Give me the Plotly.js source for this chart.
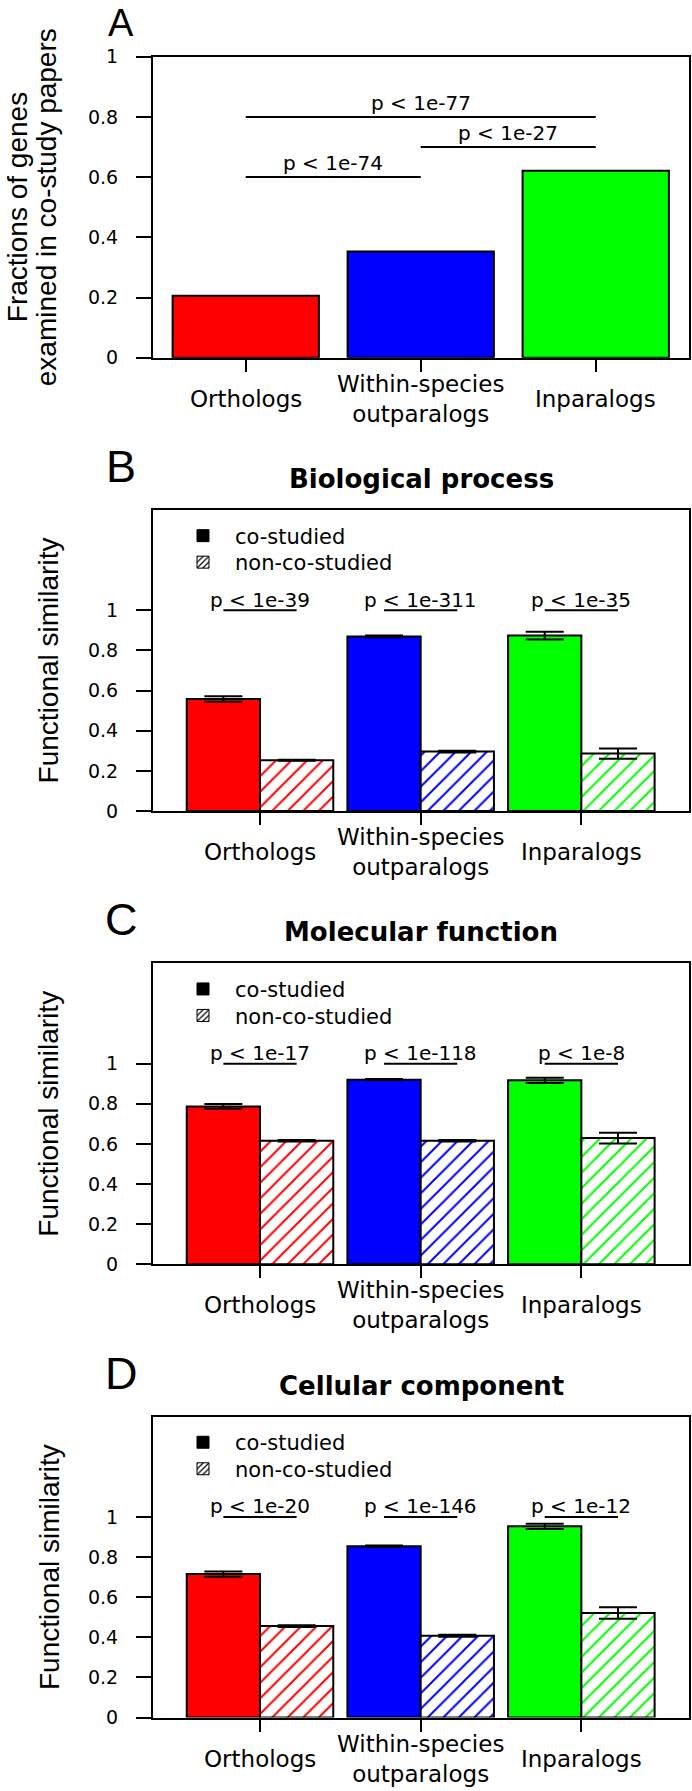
<!DOCTYPE html>
<html>
<head>
<meta charset="utf-8">
<script src="https://cdn.plot.ly/plotly-3.0.1.min.js"></script>
<style>
  html, body { margin: 0; padding: 0; background: #fff; }
  #chart { width: 692px; height: 1791px; }
</style>
</head>
<body>
<div id="chart"></div>
<script>
// Co-study fractions (A) and GO functional similarity (B-D)

var categories = ['Orthologs', 'Within-species<br>outparalogs', 'Inparalogs'];
var groupColors = ['#ff0000', '#0000ff', '#00ff00'];

// panel A
var coStudyFraction = [0.206, 0.353, 0.621];
var pairFrom = [0, 1, 0];
var pairTo = [1, 2, 2];
var pairLevel = [0.6, 0.7, 0.8];
var pairLabels = ['p < 1e-74', 'p < 1e-27', 'p < 1e-77'];

// panel B - biological process
var bpCo = [0.558, 0.870, 0.874];
var bpCoErr = [0.014, 0.004, 0.019];
var bpNon = [0.253, 0.296, 0.286];
var bpNonErr = [0.003, 0.004, 0.025];
var bpPvals = ['p < 1e-39', 'p < 1e-311', 'p < 1e-35'];

// panel C - molecular function
var mfCo = [0.787, 0.920, 0.917];
var mfCoErr = [0.012, 0.003, 0.013];
var mfNon = [0.616, 0.616, 0.629];
var mfNonErr = [0.004, 0.004, 0.027];
var mfPvals = ['p < 1e-17', 'p < 1e-118', 'p < 1e-8'];

// panel D - cellular component
var ccCo = [0.715, 0.854, 0.953];
var ccCoErr = [0.013, 0.004, 0.013];
var ccNon = [0.456, 0.408, 0.521];
var ccNonErr = [0.004, 0.005, 0.029];
var ccPvals = ['p < 1e-20', 'p < 1e-146', 'p < 1e-12'];

var panelLetters = ['A', 'B', 'C', 'D'];
var panelTitles = ['Biological process', 'Molecular function', 'Cellular component'];
var legendNames = ['co-studied', 'non-co-studied'];
var yTicks = [0, 0.2, 0.4, 0.6, 0.8, 1];

var goPanels = [
  {co: bpCo, coErr: bpCoErr, non: bpNon, nonErr: bpNonErr, p: bpPvals},
  {co: mfCo, coErr: mfCoErr, non: mfNon, nonErr: mfNonErr, p: mfPvals},
  {co: ccCo, coErr: ccCoErr, non: ccNon, nonErr: ccNonErr, p: ccPvals}
];

// page geometry (px)
var W = 692, H = 1791;
var boxLeft = 153, boxRight = 689, boxH = 301;
var panelBottom = [357.7, 811, 1264.3, 1717.6];
function px(x) { return x / W; }
function py(y) { return 1 - y / H; }

var xs = [0, 1, 2];
var barW = 0.456;       // width of one bar in a pair (group units)
var barWA = 0.836;      // panel A bar width

function font(size, extra) {
  var f = {family: 'DejaVu Sans', color: 'black', size: size};
  for (var k in extra) f[k] = extra[k];
  return f;
}
var helv = function (size) { return {family: 'Liberation Sans', size: size, color: 'black'}; };

var data = [];
var shapes = [];
var annotations = [];
var layout = {
  width: W, height: H,
  margin: {l: 0, r: 0, t: 0, b: 0},
  paper_bgcolor: 'white',
  plot_bgcolor: 'white',
  barmode: 'overlay',
  showlegend: true,
  font: font(18),
  shapes: shapes,
  annotations: annotations
};

function axisPair(i, xRange, yRange) {
  var sfx = i === 0 ? '' : String(i + 1);
  var bottom = panelBottom[i];
  layout['xaxis' + sfx] = {
    domain: [px(boxLeft), px(boxRight)],
    anchor: 'y' + sfx,
    range: xRange,
    tickvals: xs,
    showticklabels: false,
    ticks: 'outside', ticklen: 12, tickwidth: 2, tickcolor: 'black',
    showline: true, linewidth: 2, linecolor: 'black', mirror: true,
    showgrid: false, zeroline: false, fixedrange: true
  };
  layout['yaxis' + sfx] = {
    domain: [py(bottom), py(bottom - boxH)],
    anchor: 'x' + sfx,
    range: yRange,
    tickvals: yTicks,
    ticks: 'outside', ticklen: 15, tickwidth: 2, tickcolor: 'black',
    ticklabelstandoff: 14,
    tickfont: font(19),
    showline: true, linewidth: 2, linecolor: 'black', mirror: true,
    showgrid: false, zeroline: false, fixedrange: true
  };
  // category labels, centred vertically like R's axis text
  categories.forEach(function (c, k) {
    annotations.push({
      xref: 'x' + sfx, yref: 'y' + sfx, x: xs[k], y: 0,
      xanchor: 'center', yanchor: 'middle', yshift: -41, showarrow: false,
      text: c, font: font(23)
    });
  });
  // panel letter (A is squeezed between the page top and the "1" tick label)
  annotations.push({
    xref: 'paper', x: px(121.5), yref: 'y' + sfx + ' domain', y: 1,
    xanchor: 'center', yanchor: 'middle', yshift: i === 0 ? 33.2 : 43.5,
    showarrow: false, text: panelLetters[i], font: helv(i === 0 ? 38 : 45)
  });
}

// ---- panel A ----
axisPair(0, [-0.53, 2.533], [0, 1]);
data.push({
  type: 'bar', x: xs, y: coStudyFraction, width: barWA,
  marker: {color: groupColors, line: {color: 'black', width: 2}},
  xaxis: 'x', yaxis: 'y', showlegend: false, hoverinfo: 'skip'
});
pairLabels.forEach(function (lab, k) {
  shapes.push({
    type: 'line', xref: 'x', yref: 'y',
    x0: pairFrom[k], x1: pairTo[k], y0: pairLevel[k], y1: pairLevel[k],
    line: {color: 'black', width: 2}
  });
  annotations.push({
    xref: 'x', yref: 'y', x: (pairFrom[k] + pairTo[k]) / 2, y: pairLevel[k],
    xanchor: 'center', yanchor: 'middle', yshift: 14, showarrow: false,
    text: lab, font: font(20)
  });
});
annotations.push({
  xref: 'paper', x: px(17), yref: 'y domain', y: 0.5, textangle: -90,
  xanchor: 'center', yanchor: 'middle', showarrow: false,
  text: 'Fractions of genes', font: helv(28)
});
annotations.push({
  xref: 'paper', x: px(46), yref: 'y domain', y: 0.5, textangle: -90,
  xanchor: 'center', yanchor: 'middle', showarrow: false,
  text: 'examined in co-study papers', font: helv(28)
});

// ---- panels B-D ----
goPanels.forEach(function (pn, j) {
  var i = j + 1;
  var sfx = String(i + 1);
  axisPair(i, [-0.666, 2.67], [0, 1.5]);

  data.push({
    type: 'bar', x: xs, y: pn.co, width: barW, offset: -barW,
    marker: {color: groupColors, line: {color: 'black', width: 2}},
    error_y: {type: 'data', array: pn.coErr, color: 'black', thickness: 2, width: 19},
    xaxis: 'x' + sfx, yaxis: 'y' + sfx, showlegend: false, hoverinfo: 'skip'
  });
  data.push({
    type: 'bar', x: xs, y: pn.non, width: barW, offset: 0,
    marker: {
      color: 'white',
      pattern: {shape: '/', fgcolor: groupColors, bgcolor: 'white', size: 11, solidity: 0.18},
      line: {color: 'black', width: 2}
    },
    error_y: {type: 'data', array: pn.nonErr, color: 'black', thickness: 2, width: 19},
    xaxis: 'x' + sfx, yaxis: 'y' + sfx, showlegend: false, hoverinfo: 'skip'
  });

  // legend entries (one legend per row so spacing matches)
  var boxTop = panelBottom[i] - boxH;
  [0, 1].forEach(function (r) {
    var n = j * 2 + r;
    var lg = n === 0 ? 'legend' : 'legend' + (n + 1);
    var mk = r === 0
      ? {color: 'black', line: {color: 'black', width: 1}}
      : {color: 'white', pattern: {shape: '/', fgcolor: 'black', bgcolor: 'white', size: 5, solidity: 0.3},
         line: {color: 'black', width: 1}};
    data.push({
      type: 'bar', x: [null], y: [null], name: legendNames[r], marker: mk,
      xaxis: 'x' + sfx, yaxis: 'y' + sfx, legend: lg, showlegend: true, hoverinfo: 'skip'
    });
    var rowCenter = boxTop + (r === 0 ? 25.5 : 52);
    layout[lg] = {
      visible: true,
      x: px(171), xanchor: 'left', y: py(rowCenter - 20), yanchor: 'top',
      bgcolor: 'rgba(0,0,0,0)', borderwidth: 0, itemwidth: 54,
      font: font(21)
    };
  });

  // co-studied vs non-co-studied tests
  pn.p.forEach(function (lab, k) {
    shapes.push({
      type: 'line', xref: 'x' + sfx, yref: 'y' + sfx,
      x0: xs[k] - barW / 2, x1: xs[k] + barW / 2, y0: 1, y1: 1,
      line: {color: 'black', width: 2}
    });
    annotations.push({
      xref: 'x' + sfx, yref: 'y' + sfx, x: xs[k], y: 1,
      xanchor: 'center', yanchor: 'middle', yshift: 10.5, showarrow: false,
      text: lab, font: font(20)
    });
  });

  annotations.push({
    xref: 'x' + sfx + ' domain', x: 0.5, yref: 'y' + sfx + ' domain', y: 1,
    xanchor: 'center', yanchor: 'middle', yshift: 31, showarrow: false,
    text: panelTitles[j], font: font(26, {weight: 'bold'})
  });
  annotations.push({
    xref: 'paper', x: px(48.9), yref: 'y' + sfx + ' domain', y: 0.5, textangle: -90,
    xanchor: 'center', yanchor: 'middle', showarrow: false,
    text: 'Functional similarity', font: helv(28)
  });
});

Plotly.newPlot('chart', data, layout, {displayModeBar: false, staticPlot: true});
</script>
</body>
</html>
